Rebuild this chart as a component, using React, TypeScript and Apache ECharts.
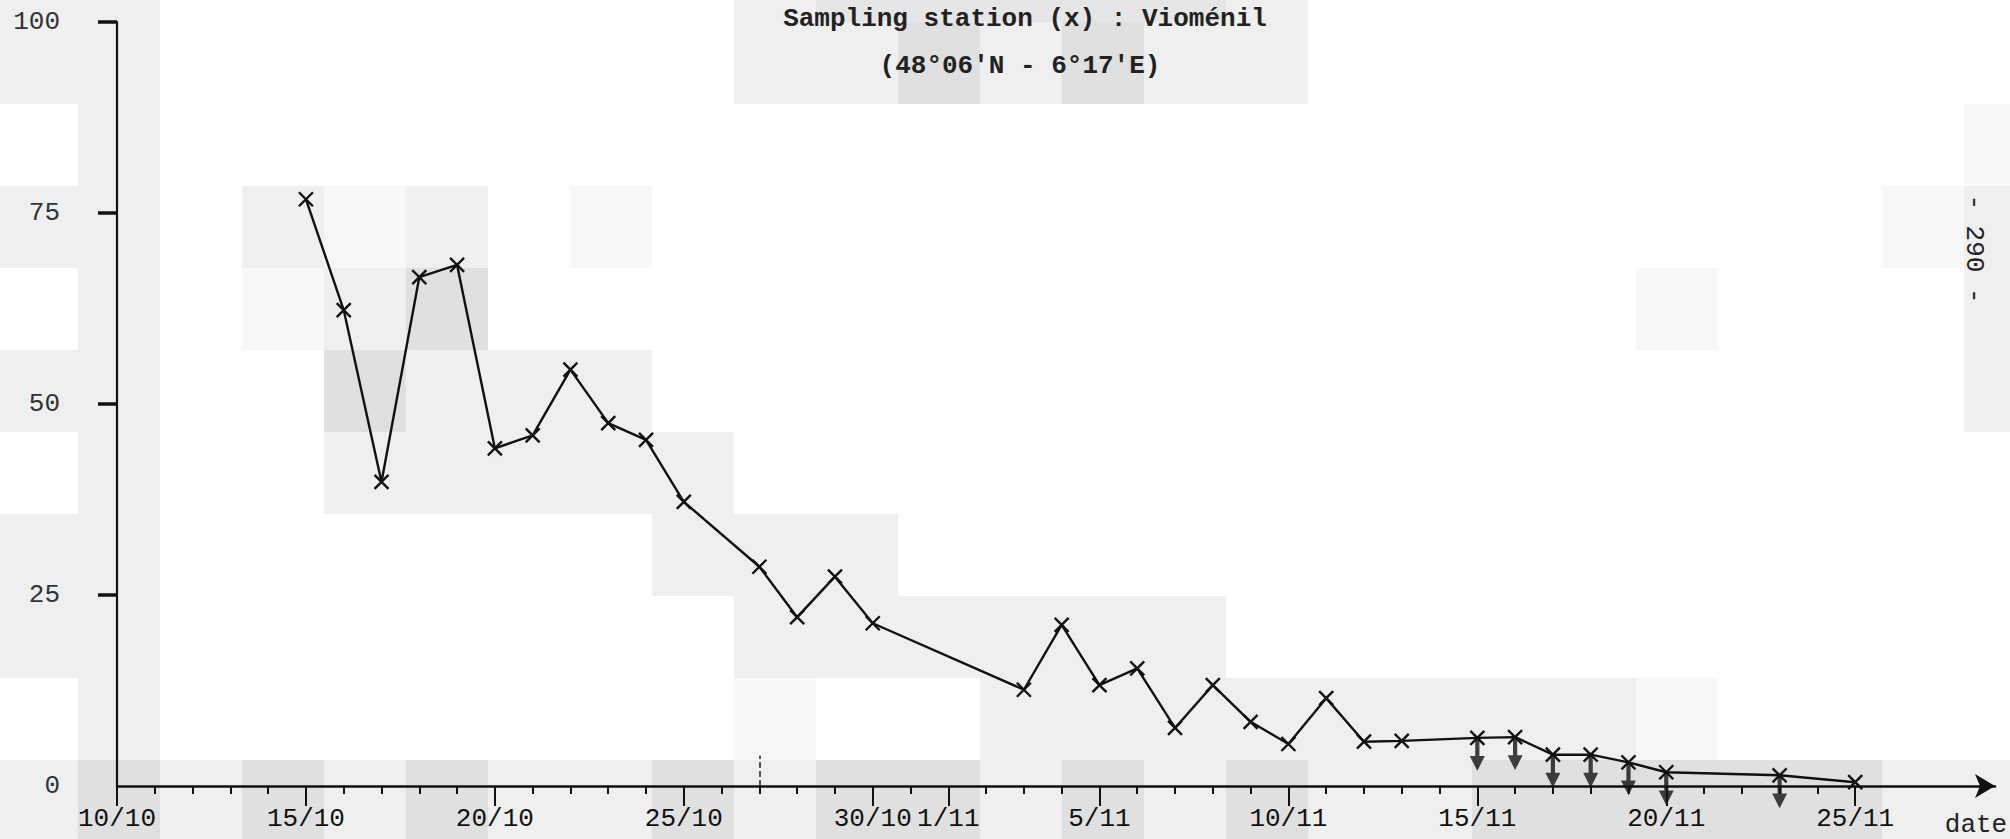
import React, { useEffect, useRef } from 'react';
import * as echarts from 'echarts';

// ---- data ----
const sampleDates = [
  '15/10', '16/10', '17/10', '18/10', '19/10', '20/10', '21/10', '22/10', '23/10', '24/10',
  '25/10', '27/10', '28/10', '29/10', '30/10', '3/11', '4/11', '5/11', '6/11', '7/11',
  '8/11', '9/11', '10/11', '11/11', '12/11', '13/11', '15/11', '16/11', '17/11', '18/11',
  '19/11', '20/11', '23/11', '25/11',
];
const concentrations = [
  76.8, 62.3, 39.8, 66.6, 68.2, 44.2, 45.9, 54.5, 47.5, 45.3,
  37.2, 28.7, 22.1, 27.4, 21.3, 12.6, 21.1, 13.2, 15.4, 7.6,
  13.2, 8.4, 5.5, 11.5, 5.8, 5.9, 6.3, 6.4, 4.1, 4.1,
  3.1, 1.8, 1.4, 0.5,
];
// samples marked with a downward arrow (upper limits)
const belowLimitDates = ['15/11', '16/11', '17/11', '18/11', '19/11', '20/11', '23/11'];
const xTickLabels = ['10/10', '15/10', '20/10', '25/10', '30/10', '1/11', '5/11', '10/11', '15/11', '20/11', '25/11'];
const yTickValues = [25, 50, 75, 100];
const markedDate = '27/10';
const titleLines = ['Sampling station (x) : Vioménil', "(48°06'N - 6°17'E)"];
const pageNumber = '- 290 -';
const xAxisName = 'date';

// scan background shading (decoration): rows top->bottom, 25 cells each
const shadeRows = [
  'gg.......gmmmmmg.........',
  'gg.......ggdgdgg.........',
  '.g......................l',
  'gg.glg.l...............lg',
  '.g.lgd..............l...g',
  'gg..dggg................g',
  '.g..ggggg................',
  'gg......ggg..............',
  'gg.......gggggg..........',
  '.g.......l..ggggggggl....',
  'gdgdgdggdgddgdgdggdddddgg',
];
const shadeColors: Record<string, string> = { g: '#efefef', d: '#e0e0e0', l: '#f7f7f7', m: '#e6e6e6' };

const START = Date.UTC(2000, 9, 10);
function dayIndex(label: string): number {
  const [d, m] = label.split('/').map(Number);
  return Math.round((Date.UTC(2000, m - 1, d) - START) / 86400000);
}

const FONT = '"Liberation Mono", "DejaVu Sans Mono", monospace';

export default function App() {
  const ref = useRef<HTMLDivElement>(null);

  useEffect(() => {
    if (!ref.current) return;
    const chart = echarts.init(ref.current, undefined, { renderer: 'svg' });

    const lastDay = dayIndex(xTickLabels[xTickLabels.length - 1]);
    const allDays = Array.from({ length: lastDay + 1 }, (_, i) => i);
    const labelDays = xTickLabels.map(dayIndex);
    const labelByDay: Record<number, string> = {};
    xTickLabels.forEach((l) => { labelByDay[dayIndex(l)] = l; });

    const lineData = sampleDates.map((d, i) => [dayIndex(d), concentrations[i]]);
    const arrowData = belowLimitDates.map((d) => [dayIndex(d), concentrations[sampleDates.indexOf(d)]]);

    // background cells
    const cell = 82;
    const bg: any[] = [];
    shadeRows.forEach((row, r) => {
      const y0 = r === 0 ? 0 : 22 + cell * (r - 1);
      const h = r === 0 ? 22 : Math.min(cell, 839 - y0);
      row.split('').forEach((ch, c) => {
        if (ch === '.') return;
        bg.push({
          type: 'rect',
          z: -10,
          silent: true,
          shape: { x: -4 + cell * c, y: y0, width: cell, height: h },
          style: { fill: shadeColors[ch] },
        });
      });
    });

    const textStyle = (text: string, weight = 'normal') => ({
      text,
      font: `${weight} 26px ${FONT}`,
      fill: '#222',
      align: 'center',
      verticalAlign: 'middle',
      textAlign: 'center',
      textVerticalAlign: 'middle',
    });

    const xMax = 49.7;

    chart.setOption({
      animation: false,
      backgroundColor: '#ffffff',
      grid: { left: 117, right: 15, top: 22, bottom: 53, containLabel: false },
      xAxis: [
        {
          type: 'value',
          min: 0,
          max: xMax,
          interval: 1,
          position: 'bottom',
          axisLine: {
            show: true,
            onZero: false,
            symbol: ['none', 'arrow'],
            symbolSize: [18, 20],
            lineStyle: { color: '#111', width: 2.5 },
          },
          axisTick: { show: true, customValues: allDays, length: 8, lineStyle: { color: '#111', width: 2 } },
          axisLabel: { show: false },
          splitLine: { show: false },
        },
        {
          type: 'value',
          min: 0,
          max: xMax,
          interval: 1,
          position: 'bottom',
          axisLine: { show: false, onZero: false },
          axisTick: { show: true, customValues: labelDays, length: 20, lineStyle: { color: '#111', width: 2 } },
          axisLabel: {
            show: true,
            customValues: labelDays,
            formatter: (v: number) => labelByDay[v] ?? '',
            fontFamily: FONT,
            fontSize: 26,
            color: '#111',
            margin: 20,
          },
          splitLine: { show: false },
        },
      ],
      yAxis: [
        {
          type: 'value',
          min: 0,
          max: 100,
          interval: 25,
          axisLine: { show: true, onZero: false, lineStyle: { color: '#111', width: 2.2 } },
          axisTick: { show: false },
          axisLabel: { margin: 57, fontFamily: FONT, fontSize: 26, color: '#333' },
          splitLine: { show: false },
        },
        {
          type: 'value',
          min: 0,
          max: 100,
          interval: 25,
          position: 'left',
          offset: 9,
          axisLine: { show: false },
          axisTick: { show: true, customValues: yTickValues, length: 19, lineStyle: { color: '#111', width: 3.5 } },
          axisLabel: { show: false },
          splitLine: { show: false },
        },
      ],
      series: [
        {
          type: 'line',
          xAxisIndex: 0,
          yAxisIndex: 0,
          data: lineData,
          symbol: 'path://M0,0L10,10M10,0L0,10',
          symbolSize: 14,
          showAllSymbol: true,
          itemStyle: { color: '#111', borderColor: '#111', borderWidth: 2.4 },
          lineStyle: { color: '#111', width: 2.4 },
          z: 3,
          markLine: {
            silent: true,
            symbol: ['none', 'none'],
            label: { show: false },
            lineStyle: { type: 'dashed', color: '#222', width: 1.5 },
            data: [[{ coord: [dayIndex(markedDate), 0] }, { coord: [dayIndex(markedDate), 4] }]],
          },
        },
        {
          type: 'scatter',
          xAxisIndex: 0,
          yAxisIndex: 0,
          data: arrowData,
          symbol: 'path://M3.6,0L6.4,0L6.4,15L10,15L5,28L0,15L3.6,15Z',
          symbolSize: [15, 32],
          symbolOffset: [0, 17],
          itemStyle: { color: '#111' },
          z: 4,
        },
      ],
      graphic: [
        ...bg,
        { type: 'text', x: 1025, y: 19, z: 5, style: textStyle(titleLines[0], 'bold') },
        { type: 'text', x: 1020, y: 66, z: 5, style: textStyle(titleLines[1], 'bold') },
        { type: 'text', x: 1974, y: 249, rotation: -Math.PI / 2, z: 5, style: textStyle(pageNumber) },
        { type: 'text', x: 1976, y: 825, z: 5, style: textStyle(xAxisName) },
      ],
    });

    return () => chart.dispose();
  }, []);

  return (
    <div
      ref={ref}
      style={{ position: 'absolute', left: 0, top: 0, width: 2010, height: 839, background: '#fff' }}
    />
  );
}
